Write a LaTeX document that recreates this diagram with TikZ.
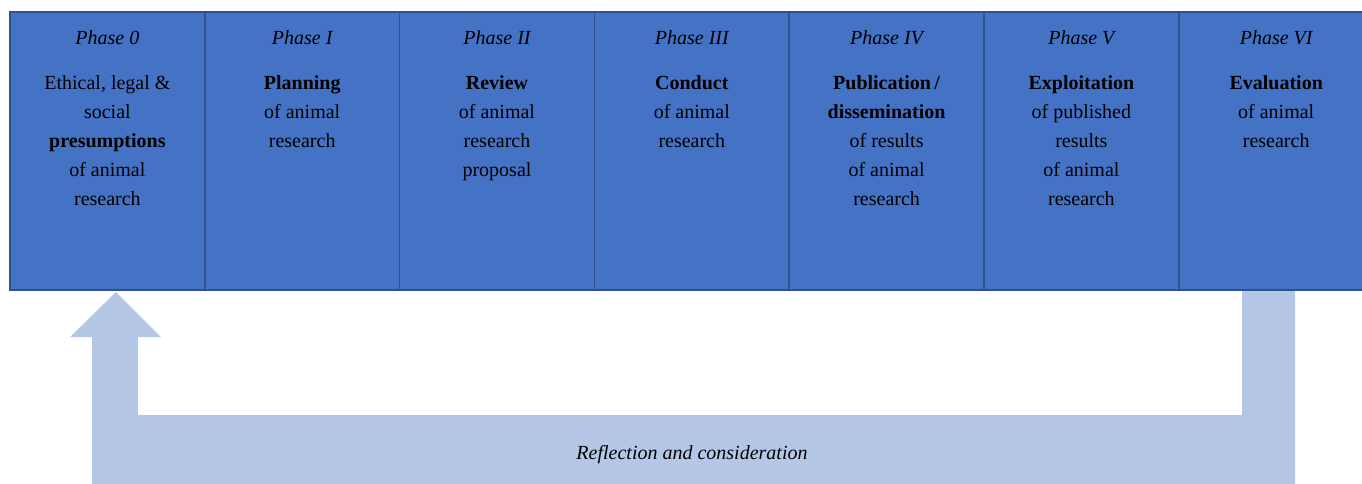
\documentclass[tikz,border=0pt]{standalone}
\usepackage{fontspec}
\setmainfont{Liberation Serif}
\usetikzlibrary{positioning}
\definecolor{phaseblue}{HTML}{4472C4}
\definecolor{phaseline}{HTML}{2F528F}
\definecolor{loopblue}{HTML}{B4C7E7}

\begin{document}
\begin{tikzpicture}[x=1pt,y=-1pt,
  phasebox/.style={draw=phaseline, line width=1.5pt, fill=phaseblue, minimum width=194.8pt, minimum height=278pt, inner sep=0pt, outer sep=0pt},
  phasename/.style={font=\fontsize{20}{29}\selectfont\itshape, anchor=base, inner sep=0pt},
  phasetext/.style={font=\fontsize{20}{29}\selectfont, align=center, anchor=north, inner sep=0pt}]
% Page frame
\useasboundingbox (0,0) rectangle (1362,484);
\clip (0,0) rectangle (1362,484);

% Feedback loop
\fill[loopblue] (92,490) -- (92,337) -- (70,337) -- (116,292) -- (161,337) -- (138,337) -- (138,415)
  -- (1242,415) -- (1242,291) -- (1295,291) -- (1295,490) -- cycle;
\node[font=\fontsize{20}{29}\selectfont\itshape] (loop) at (692,455) {Reflection and consideration};

% Phase boxes
\node[phasebox, anchor=north west] (p0) at (10,12) {};
\node[phasebox, right=0pt of p0] (p1) {};
\node[phasebox, right=0pt of p1] (p2) {};
\node[phasebox, right=0pt of p2] (p3) {};
\node[phasebox, right=0pt of p3] (p4) {};
\node[phasebox, right=0pt of p4] (p5) {};
\node[phasebox, right=0pt of p5] (p6) {};

% Phase names
\node[phasename] (n0) at ([yshift=-33pt]p0.north) {Phase 0};
\node[phasename] (n1) at ([yshift=-33pt]p1.north) {Phase I};
\node[phasename] (n2) at ([yshift=-33pt]p2.north) {Phase II};
\node[phasename] (n3) at ([yshift=-33pt]p3.north) {Phase III};
\node[phasename] (n4) at ([yshift=-33pt]p4.north) {Phase IV};
\node[phasename] (n5) at ([yshift=-33pt]p5.north) {Phase V};
\node[phasename] (n6) at ([yshift=-33pt]p6.north) {Phase VI};

% Phase contents
\node[phasetext] (t0) at ([yshift=-63pt]p0.north) {Ethical, legal \&\\ social\\ \textbf{presumptions}\\ of animal\\ research};
\node[phasetext] (t1) at ([yshift=-63pt]p1.north) {\textbf{Planning}\\ of animal\\ research};
\node[phasetext] (t2) at ([yshift=-63pt]p2.north) {\textbf{Review}\\ of animal\\ research\\ proposal};
\node[phasetext] (t3) at ([yshift=-63pt]p3.north) {\textbf{Conduct}\\ of animal\\ research};
\node[phasetext] (t4) at ([yshift=-63pt]p4.north) {\textbf{Publication\,/}\\ \textbf{dissemination}\\ of results\\ of animal\\ research};
\node[phasetext] (t5) at ([yshift=-63pt]p5.north) {\textbf{Exploitation}\\ of published\\ results\\ of animal\\ research};
\node[phasetext] (t6) at ([yshift=-63pt]p6.north) {\textbf{Evaluation}\\ of animal\\ research};
\end{tikzpicture}
\end{document}
